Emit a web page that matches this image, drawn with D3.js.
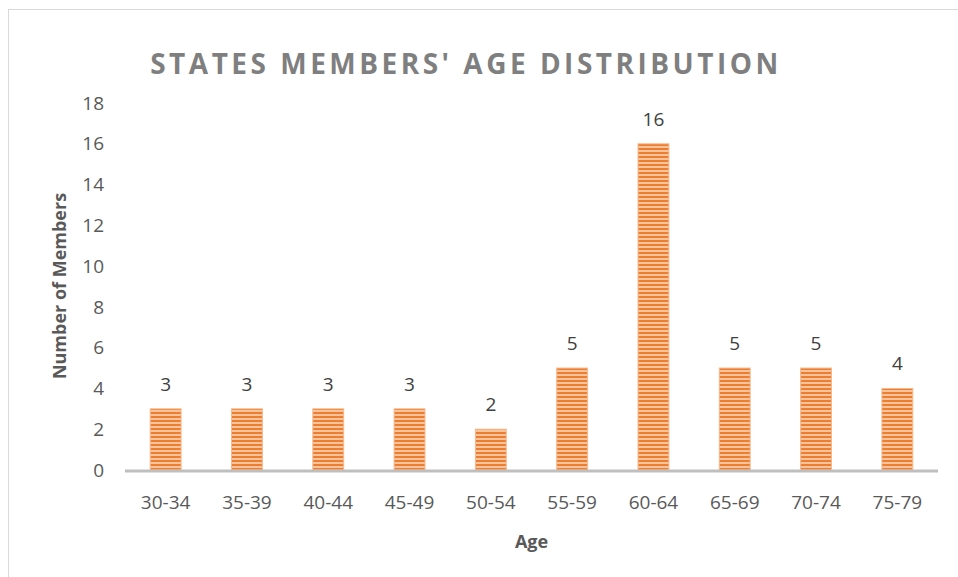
<!DOCTYPE html>
<html>
  <head>
    <meta charset="UTF-8">
    <title>States Members' Age Distribution</title>
    <style>
      * { margin: 0; padding: 0; overflow: hidden; }
      body { background: #fff; }
      text { font-family: "Open Sans", "Liberation Sans", sans-serif; }
    </style>
    <script src="https://d3js.org/d3.v7.min.js"></script>
  </head>
  <body>
    <script type="text/javascript">
      // データ
      const categories = ["30-34", "35-39", "40-44", "45-49", "50-54", "55-59", "60-64", "65-69", "70-74", "75-79"];
      const members = [3, 3, 3, 3, 2, 5, 16, 5, 5, 4];
      const yTicks = [0, 2, 4, 6, 8, 10, 12, 14, 16, 18];

      const WIDTH = 958;
      const HEIGHT = 577;
      const margin = { left: 125, right: 20, top: 103, bottom: 107 };

      const svg = d3.select("body")
        .append("svg")
        .attr("width", WIDTH)
        .attr("height", HEIGHT);

      // stripe pattern
      const pat = svg.append("defs").append("pattern")
        .attr("id", "stripes")
        .attr("patternUnits", "userSpaceOnUse")
        .attr("width", 8)
        .attr("height", 4);
      pat.append("rect").attr("width", 8).attr("height", 4).attr("fill", "#f7c39c");
      pat.append("rect").attr("width", 8).attr("height", 2).attr("fill", "#ed7d31");

      // frame
      svg.append("rect")
        .attr("x", 8.5).attr("y", 9.5)
        .attr("width", WIDTH).attr("height", HEIGHT)
        .attr("fill", "none")
        .attr("stroke", "#d9d9d9");

      const x = d3.scaleBand()
        .domain(categories)
        .range([margin.left, WIDTH - margin.right])
        .paddingInner(0.62)
        .paddingOuter(0.31);

      const y = d3.scaleLinear()
        .domain([0, 18])
        .range([HEIGHT - margin.bottom, margin.top]);

      // y axis labels
      svg.append("g")
        .selectAll("text")
        .data(yTicks)
        .join("text")
        .attr("x", 104)
        .attr("y", (d) => y(d))
        .attr("dy", "0.35em")
        .attr("text-anchor", "end")
        .attr("fill", "#595959")
        .attr("font-size", 19)
        .text((d) => d);

      // bars
      svg.append("g")
        .selectAll("rect")
        .data(members)
        .join("rect")
        .attr("x", (d, i) => x(categories[i]))
        .attr("y", (d) => y(d))
        .attr("width", x.bandwidth())
        .attr("height", (d) => y(0) - y(d))
        .attr("fill", "url(#stripes)")
        .attr("stroke", "#f6b98c")
        .attr("stroke-width", 1);

      // baseline
      svg.append("line")
        .attr("x1", margin.left)
        .attr("x2", WIDTH - margin.right)
        .attr("y1", y(0) + 1)
        .attr("y2", y(0) + 1)
        .attr("stroke", "#bfbfbf")
        .attr("stroke-width", 3);

      // data labels
      svg.append("g")
        .selectAll("text")
        .data(members)
        .join("text")
        .attr("x", (d, i) => x(categories[i]) + x.bandwidth() / 2)
        .attr("y", (d) => y(d) - 18)
        .attr("text-anchor", "middle")
        .attr("fill", "#404040")
        .attr("font-size", 19)
        .text((d) => d);

      // category labels
      svg.append("g")
        .selectAll("text")
        .data(categories)
        .join("text")
        .attr("x", (d) => x(d) + x.bandwidth() / 2)
        .attr("y", 509)
        .attr("text-anchor", "middle")
        .attr("fill", "#595959")
        .attr("font-size", 19)
        .text((d) => d);

      // axis titles
      svg.append("text")
        .attr("x", (margin.left + WIDTH - margin.right) / 2)
        .attr("y", 548)
        .attr("text-anchor", "middle")
        .attr("fill", "#595959")
        .attr("font-size", 18)
        .attr("font-weight", "bold")
        .text("Age");

      svg.append("text")
        .attr("transform", `translate(66, 286) rotate(-90)`)
        .attr("text-anchor", "middle")
        .attr("fill", "#595959")
        .attr("font-size", 18)
        .attr("font-weight", "bold")
        .text("Number of Members");

      // title
      svg.append("text")
        .attr("x", 466)
        .attr("y", 74)
        .attr("text-anchor", "middle")
        .attr("fill", "#7f7f7f")
        .attr("font-size", 28)
        .attr("font-weight", "bold")
        .attr("letter-spacing", 3.5)
        .text("STATES MEMBERS' AGE DISTRIBUTION");
    </script>
  </body>
</html>
